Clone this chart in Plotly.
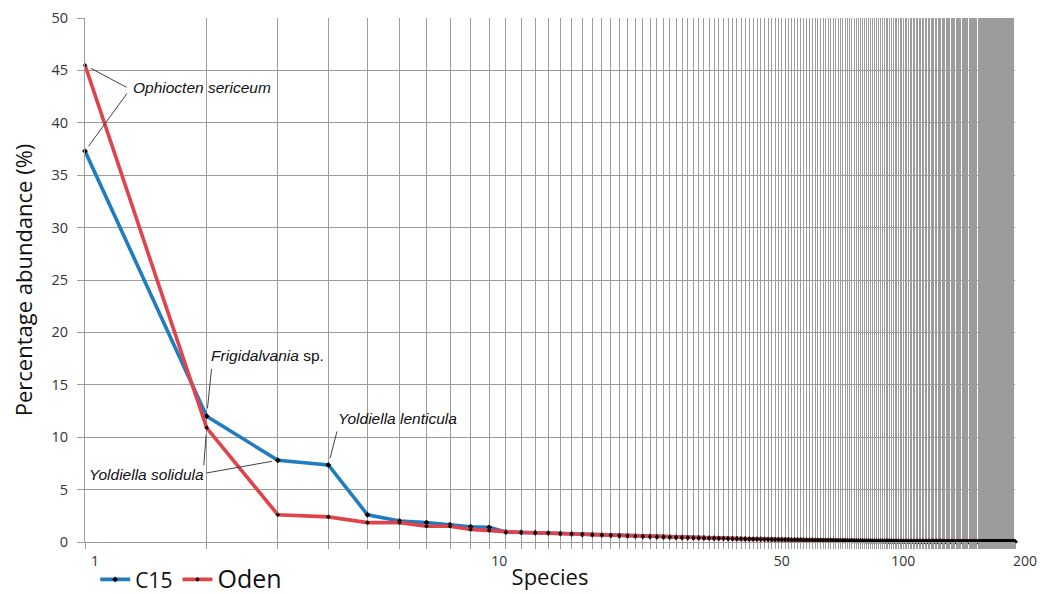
import numpy as np
import plotly.graph_objects as go

# ---------------- data ----------------
c15_abundance = [
    37.3, 12.0, 7.8, 7.35, 2.6, 2.0, 1.85, 1.65, 1.45, 1.4,
    0.95, 0.92, 0.88, 0.85, 0.8, 0.76, 0.72, 0.69, 0.66, 0.63,
    0.6, 0.58, 0.56, 0.54, 0.52, 0.5, 0.48, 0.46, 0.45, 0.43,
    0.42, 0.4, 0.39, 0.38, 0.37, 0.36, 0.35, 0.34, 0.33, 0.32,
    0.31, 0.3, 0.29, 0.28, 0.28, 0.27, 0.26, 0.25, 0.25, 0.24,
    0.23, 0.23, 0.22, 0.21, 0.21, 0.2, 0.2, 0.19, 0.19, 0.18,
    0.18, 0.17, 0.17, 0.16, 0.16, 0.15, 0.15, 0.15, 0.14, 0.14,
    0.14, 0.13, 0.13, 0.13, 0.12, 0.12, 0.12, 0.11, 0.11, 0.11,
    0.1, 0.1, 0.1, 0.1, 0.09, 0.09, 0.09, 0.09, 0.08, 0.08,
    0.08, 0.08, 0.08, 0.07, 0.07, 0.07, 0.07, 0.07, 0.07, 0.06,
    0.06, 0.06, 0.06, 0.06, 0.06, 0.06, 0.06, 0.06, 0.06, 0.06,
    0.06, 0.06, 0.05, 0.05, 0.05, 0.05, 0.05, 0.05, 0.05, 0.05,
    0.05, 0.05, 0.05, 0.05, 0.05, 0.05, 0.05, 0.05, 0.05, 0.05,
    0.05, 0.05, 0.04, 0.04, 0.04, 0.04, 0.04, 0.04, 0.04, 0.04,
    0.04, 0.04, 0.04, 0.04, 0.04, 0.04, 0.04, 0.04, 0.04, 0.04,
    0.04, 0.04, 0.04, 0.04, 0.04, 0.03, 0.03, 0.03, 0.03, 0.03,
    0.03, 0.03, 0.03, 0.03, 0.03, 0.03, 0.03, 0.03, 0.03, 0.03,
    0.03, 0.03, 0.03, 0.03, 0.03, 0.03, 0.03, 0.03, 0.03, 0.03,
    0.03, 0.03, 0.03, 0.03, 0.02, 0.02, 0.02, 0.02, 0.02, 0.02,
    0.02, 0.02, 0.02, 0.02, 0.02, 0.02, 0.02, 0.02, 0.02, 0.02,
]

oden_abundance = [
    45.5, 10.9, 2.6, 2.4, 1.85, 1.85, 1.5, 1.5, 1.2, 1.1,
    0.93, 0.9, 0.88, 0.86, 0.82, 0.78, 0.74, 0.7, 0.67, 0.64,
    0.61, 0.59, 0.57, 0.55, 0.53, 0.51, 0.49, 0.47, 0.46, 0.44,
    0.43, 0.41, 0.4, 0.39, 0.38, 0.37, 0.36, 0.35, 0.34, 0.33,
    0.32, 0.31, 0.3, 0.3, 0.29, 0.28, 0.27, 0.27, 0.26, 0.25,
    0.25, 0.24, 0.24, 0.23, 0.23, 0.22, 0.22, 0.21, 0.21, 0.2,
    0.2, 0.19, 0.19, 0.18, 0.18, 0.18, 0.17, 0.17, 0.16, 0.16,
    0.16, 0.15, 0.15, 0.15, 0.14, 0.14, 0.14, 0.13, 0.13, 0.13,
    0.12, 0.12, 0.12, 0.12, 0.11, 0.11, 0.11, 0.11, 0.1, 0.1,
    0.1, 0.1, 0.1, 0.1, 0.09, 0.09, 0.09, 0.09, 0.09, 0.09,
    0.09, 0.09, 0.08, 0.08, 0.08, 0.08, 0.08, 0.08, 0.08, 0.08,
    0.08, 0.08, 0.08, 0.08, 0.07, 0.07, 0.07, 0.07, 0.07, 0.07,
    0.07, 0.07, 0.07, 0.07, 0.07, 0.06, 0.06, 0.06, 0.06, 0.06,
    0.06, 0.06, 0.06, 0.06, 0.06, 0.06, 0.06, 0.06, 0.06, 0.06,
    0.05, 0.05, 0.05, 0.05, 0.05, 0.05, 0.05, 0.05, 0.05, 0.05,
    0.05, 0.05, 0.05, 0.05, 0.05, 0.04, 0.04, 0.04, 0.04, 0.04,
    0.04, 0.04, 0.04, 0.04, 0.04, 0.04,
]

c15_rank = list(range(1, len(c15_abundance) + 1))
oden_rank = list(range(1, len(oden_abundance) + 1))

x_tick_values = [1, 10, 50, 100, 200]
x_tick_labels = ["1", "10", "50", "100", "200"]
y_tick_values = [0, 5, 10, 15, 20, 25, 30, 35, 40, 45, 50]

# ---------------- styles ----------------
BLUE = "#1f7cc1"
RED = "#e0444a"
GRID = "#9c9c9c"
TEXT = "#333333"
FONT = "Open Sans"
ANN_FONT = "Liberation Sans"

fig = go.Figure()
fig.add_trace(go.Scatter(
    x=c15_rank, y=c15_abundance, name="C15", mode="lines+markers",
    line=dict(color=BLUE, width=3.6),
    marker=dict(symbol="diamond", size=4.5, color="black"),
    cliponaxis=False,
))
fig.add_trace(go.Scatter(
    x=oden_rank, y=oden_abundance,
    name='<span style="font-size:25px">Oden</span>', mode="lines+markers",
    line=dict(color=RED, width=3.6),
    marker=dict(symbol="diamond", size=3.5, color="black"),
    cliponaxis=False,
))

def lx(v):
    return float(np.log10(v))

annotations = []
# label texts
annotations.append(dict(x=lx(1), y=oden_abundance[0], text="<i>Ophiocten sericeum</i>",
                        showarrow=False, xanchor="left", yanchor="middle", xshift=46, yshift=-22))
annotations.append(dict(x=lx(2), y=c15_abundance[1], text="<i>Frigidalvania</i> sp.",
                        showarrow=False, xanchor="left", yanchor="middle", xshift=2, yshift=61))
annotations.append(dict(x=lx(4), y=c15_abundance[3], text="<i>Yoldiella lenticula</i>",
                        showarrow=False, xanchor="left", yanchor="middle", xshift=8, yshift=46))
annotations.append(dict(x=lx(3), y=c15_abundance[2], text="<i>Yoldiella solidula</i>",
                        showarrow=False, xanchor="right", yanchor="middle", xshift=-72, yshift=-14))
for a in annotations:
    a["font"] = dict(family=ANN_FONT, size=15.5, color="#111111")

# leader lines (head at data point, tail offset in px)
leaders = [
    (1, oden_abundance[0], 43, 23, 7),
    (1, c15_abundance[0], 43, -59, 6),
    (2, c15_abundance[1], 5, -49, 8),
    (4, c15_abundance[3], 9, -35, 7),
    (3, c15_abundance[2], -73, 13, 6),
    (2, oden_abundance[1], -3, 39, 7),
]
for rx, ry, ax, ay, so in leaders:
    annotations.append(dict(x=lx(rx), y=ry, text="", showarrow=True, arrowhead=0,
                            arrowwidth=1, arrowcolor="#404040", ax=ax, ay=ay, standoff=so))

fig.update_layout(
    width=1053, height=594,
    margin=dict(l=85, r=38, t=18, b=52, autoexpand=False),
    paper_bgcolor="white", plot_bgcolor="white",
    font=dict(family=FONT, color=TEXT),
    showlegend=True,
    legend=dict(orientation="h", x=0.011, xanchor="left", y=-0.072, yanchor="middle",
                font=dict(size=21, color="#111111"), bgcolor="rgba(0,0,0,0)",
                itemwidth=30, tracegroupgap=0),
    annotations=annotations,
)

fig.update_xaxes(
    type="log", range=[0, np.log10(200)], automargin=False,
    tickmode="array", tickvals=x_tick_values, ticktext=x_tick_labels,
    showgrid=False, zeroline=False,
    ticks="outside", ticklen=6, tickcolor=GRID,
    tickfont=dict(size=14, color=TEXT), ticklabelshift=10,
    showline=True, linecolor=GRID, linewidth=1,
    minor=dict(tickmode="array", tickvals=list(range(1, 201)), showgrid=True,
               gridcolor=GRID, gridwidth=1, ticks="outside", ticklen=6, tickcolor=GRID),
    title=dict(text="Species", font=dict(size=22, color="#111111"), standoff=0),
)
fig.update_yaxes(
    range=[0, 50], automargin=False, tickmode="array", tickvals=y_tick_values,
    showgrid=True, gridcolor=GRID, gridwidth=1, zeroline=False,
    ticks="outside", ticklen=7, tickcolor=GRID,
    tickfont=dict(size=14.5, color=TEXT), ticklabelstandoff=6,
    showline=True, linecolor=GRID, linewidth=1,
    title=dict(text="Percentage abundance (%)", font=dict(size=22, color="#111111"), standoff=12),
)

fig.write_html("out.html")
